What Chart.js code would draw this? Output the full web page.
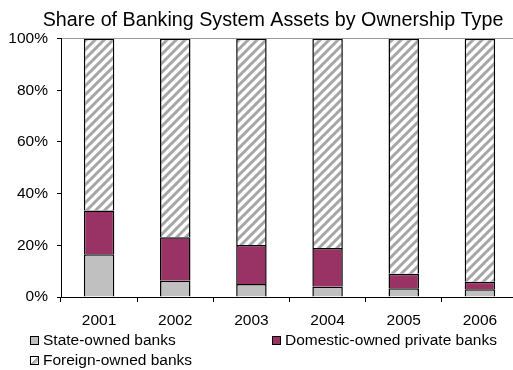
<!DOCTYPE html>
<html>
<head>
<meta charset="utf-8">
<script src="https://cdn.jsdelivr.net/npm/chart.js@4.4.0/dist/chart.umd.min.js"></script>
<style>
  html, body { margin: 0; padding: 0; background: #fff; overflow: hidden; }
  #wrap { position: relative; width: 546px; height: 370px; }
  #assetsChart { position: absolute; left: 0; top: 0; }
  .legend-item {
    position: absolute;
    font-family: "Liberation Sans", Arial, sans-serif;
    font-size: 15.5px;
    color: #000;
    white-space: nowrap;
    line-height: 18px;
  }
  .legend-box {
    display: inline-block;
    width: 7px;
    height: 7px;
    border: 1px solid #000;
    margin-right: 4px;
    vertical-align: 0px;
  }
</style>
</head>
<body>
<div id="wrap">
  <canvas id="assetsChart" width="546" height="370"></canvas>
  <div class="legend-item" style="left:30px; top:331px;"><span class="legend-box" style="background:#c0c0c0"></span>State-owned banks</div>
  <div class="legend-item" style="left:272px; top:331px;"><span class="legend-box" style="background:#993366"></span>Domestic-owned private banks</div>
  <div class="legend-item" style="left:30px; top:351px;"><span class="legend-box" style="background:linear-gradient(135deg, #fff 0%, #fff 45%, #a0a0a0 50%, #fff 100%)"></span>Foreign-owned banks</div>
</div>
<script>
const years = ['2001', '2002', '2003', '2004', '2005', '2006'];
const stateOwned = [16.5, 6.3, 5.0, 4.0, 3.4, 3.0];
const domesticPrivate = [17.0, 16.8, 15.1, 15.0, 5.6, 2.9];
const foreignOwned = [66.5, 76.9, 79.9, 81.0, 91.0, 94.1];
const yTicks = [0, 20, 40, 60, 80, 100];

const canvas = document.getElementById('assetsChart');
const ctx = canvas.getContext('2d');

// diagonal hatch for the foreign-owned segments
function makeHatch() {
    const s = 9;
    const tile = document.createElement('canvas');
    tile.width = s;
    tile.height = s;
    const t = tile.getContext('2d');
    t.fillStyle = '#fff';
    t.fillRect(0, 0, s, s);
    t.strokeStyle = '#a6a6a6';
    t.lineWidth = 3;
    t.beginPath();
    t.moveTo(0, s); t.lineTo(s, 0);
    t.moveTo(-2, 2); t.lineTo(2, -2);
    t.moveTo(s - 2, s + 2); t.lineTo(s + 2, s - 2);
    t.stroke();
    return ctx.createPattern(tile, 'repeat');
}

// let the title span the whole canvas, not just up to the right padding
const fullWidthTitle = {
    id: 'fullWidthTitle',
    afterLayout(chart) {
        if (chart.titleBlock) {
            chart.titleBlock.left = 0;
            chart.titleBlock.right = chart.width;
        }
    }
};

const font = { family: '"Liberation Sans", Arial, sans-serif', size: 15.5 };

new Chart(ctx, {
    type: 'bar',
    data: {
        labels: years,
        datasets: [
            { label: 'State-owned banks', data: stateOwned, backgroundColor: '#c0c0c0' },
            { label: 'Domestic-owned private banks', data: domesticPrivate, backgroundColor: '#993366' },
            { label: 'Foreign-owned banks', data: foreignOwned, backgroundColor: makeHatch() }
        ]
    },
    plugins: [fullWidthTitle],
    options: {
        responsive: false,
        animation: false,
        devicePixelRatio: 1,
        layout: { padding: { left: 0, right: 28, top: 0, bottom: 43 } },
        datasets: {
            bar: {
                borderColor: '#000',
                borderWidth: 1.5,
                categoryPercentage: 1,
                barPercentage: 0.4
            }
        },
        plugins: {
            legend: { display: false },
            tooltip: { enabled: false },
            title: {
                display: true,
                text: 'Share of Banking System Assets by Ownership Type',
                color: '#000',
                font: { family: font.family, size: 19.7, weight: 'normal' },
                padding: { top: 9, bottom: 6 }
            }
        },
        scales: {
            x: {
                stacked: true,
                grid: {
                    offset: true,
                    drawOnChartArea: false,
                    tickLength: 5,
                    tickColor: '#000'
                },
                border: { color: '#000', width: 1 },
                ticks: { color: '#000', font: font, padding: 9, maxRotation: 0 },
                afterFit(scale) { scale.height = 30; }
            },
            y: {
                stacked: true,
                min: 0,
                max: 100,
                afterBuildTicks(scale) {
                    scale.ticks = yTicks.map(v => ({ value: v }));
                },
                grid: {
                    color: c => (c.tick && c.tick.value === 100 ? '#999' : 'rgba(0,0,0,0)'),
                    tickLength: 4,
                    tickColor: '#000'
                },
                border: { color: '#000', width: 1 },
                ticks: {
                    color: '#000',
                    font: font,
                    padding: 9,
                    callback: v => v + '%'
                },
                afterFit(scale) { scale.width = 61; }
            }
        }
    }
});
</script>
</body>
</html>
